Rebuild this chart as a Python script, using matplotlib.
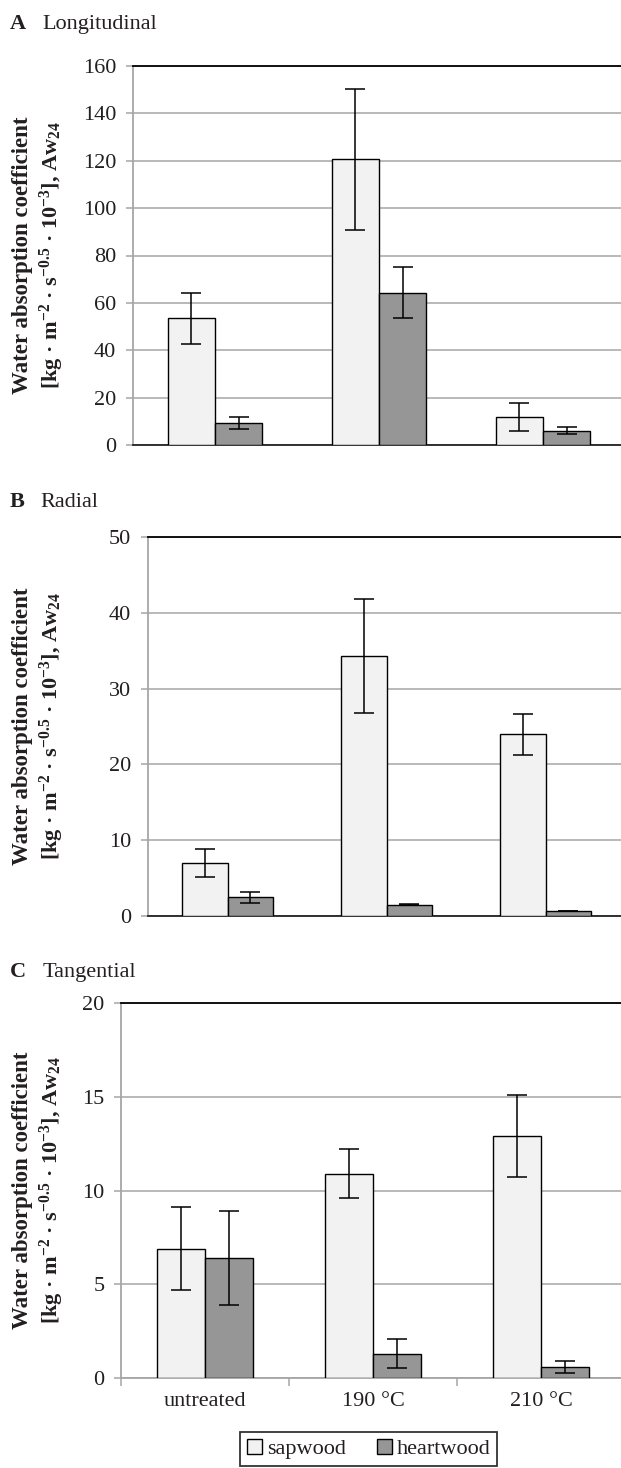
import matplotlib
matplotlib.use("Agg")
import matplotlib.pyplot as plt
from matplotlib.patches import Patch
import numpy as np

plt.rcParams['font.family'] = ['Liberation Serif', 'DejaVu Serif']
plt.rcParams['mathtext.fontset'] = 'custom'
plt.rcParams['mathtext.rm'] = 'Liberation Serif:bold'
plt.rcParams['mathtext.it'] = 'Liberation Serif:bold'
plt.rcParams['mathtext.bf'] = 'Liberation Serif:bold'

categories = ["untreated", "190 °C", "210 °C"]
series_names = ["sapwood", "heartwood"]

long_sap = [53.5, 120.6, 11.8]
long_sap_err = [10.8, 29.8, 6.0]
long_heart = [9.2, 64.3, 6.0]
long_heart_err = [2.5, 10.7, 1.5]

rad_sap = [7.0, 34.3, 24.0]
rad_sap_err = [1.85, 7.5, 2.7]
rad_heart = [2.45, 1.5, 0.65]
rad_heart_err = [0.75, 0.1, 0.05]

tan_sap = [6.9, 10.9, 12.9]
tan_sap_err = [2.2, 1.3, 2.2]
tan_heart = [6.4, 1.3, 0.6]
tan_heart_err = [2.5, 0.78, 0.31]

panel_letters = ["A", "B", "C"]
panel_names = ["Longitudinal", "Radial", "Tangential"]
y_max = [160, 50, 20]
y_step = [20, 10, 5]

W, H = 621, 1468
fig = plt.figure(figsize=(W / 100, H / 100), dpi=100)

# pixel boxes: left, right, top, bottom
boxes = [(133, 625, 66, 445), (148, 625, 537, 916), (121, 625, 1003, 1378)]
title_base = [29, 507, 977]
title_x2 = [42, 40, 43]

sap_color = "#f2f2f2"
heart_color = "#969696"
grid_color = "#a6a6a6"
text_color = "#231f20"
bw = 0.287

data = [
    (long_sap, long_sap_err, long_heart, long_heart_err),
    (rad_sap, rad_sap_err, rad_heart, rad_heart_err),
    (tan_sap, tan_sap_err, tan_heart, tan_heart_err),
]

x = np.arange(len(categories))
for i, (l, r, t, b) in enumerate(boxes):
    ax = fig.add_axes([l / W, 1 - b / H, (r - l) / W, (b - t) / H])
    sap, sap_e, heart, heart_e = data[i]
    ax.bar(x - bw / 2, sap, bw, color=sap_color, edgecolor="black", linewidth=1.0, zorder=3)
    ax.bar(x + bw / 2, heart, bw, color=heart_color, edgecolor="black", linewidth=1.0, zorder=3)
    ax.errorbar(x - bw / 2, sap, yerr=sap_e, fmt="none", ecolor="black", elinewidth=1.1,
                capsize=7.5, capthick=1.1, zorder=4)
    ax.errorbar(x + bw / 2, heart, yerr=heart_e, fmt="none", ecolor="black", elinewidth=1.1,
                capsize=7.5, capthick=1.1, zorder=4)
    ax.set_xlim(-0.5, 2.5)
    ax.set_ylim(0, y_max[i])
    ax.set_yticks(np.arange(0, y_max[i] + 0.1, y_step[i]))
    ax.yaxis.grid(True, color=grid_color, linewidth=1.1, zorder=0)
    ax.set_axisbelow(True)
    ax.tick_params(axis="y", direction="out", length=5, width=1.1, color=grid_color,
                   labelsize=16, labelcolor=text_color, pad=7)
    ax.spines["right"].set_visible(False)
    ax.spines["top"].set_color("black")
    ax.spines["top"].set_linewidth(1.3)
    ax.spines["left"].set_color(grid_color)
    ax.spines["left"].set_linewidth(1.3)
    if i < 2:
        ax.spines["bottom"].set_color("#222222")
        ax.spines["bottom"].set_linewidth(1.3)
        ax.set_xticks([])
    else:
        ax.spines["bottom"].set_color(grid_color)
        ax.spines["bottom"].set_linewidth(1.3)
        ax.set_xticks(x)
        ax.set_xticklabels(categories)
        ax.set_xticks([-0.5, 0.5, 1.5, 2.5], minor=True)
        ax.tick_params(axis="x", which="major", length=0, labelsize=16,
                       labelcolor=text_color, pad=10)
        ax.tick_params(axis="x", which="minor", length=6, width=1.1, color=grid_color)

    # panel titles
    fig.text(10 / W, 1 - title_base[i] / H, panel_letters[i], fontsize=16,
             fontweight="bold", color=text_color, va="baseline", ha="left")
    fig.text(title_x2[i] / W, 1 - title_base[i] / H, panel_names[i], fontsize=16,
             color=text_color, va="baseline", ha="left")

    # y labels (two lines)
    yc = 1 - ((t + b) / 2) / H
    fig.text(23 / W, yc, "Water absorption coefficient", rotation=90, fontsize=16.5,
             fontweight="bold", color=text_color, ha="center", va="center")
    fig.text(52 / W, yc,
             r"[kg · m$^{-2}$ · s$^{-0.5}$ · 10$^{-3}$], Aw$_{24}$",
             rotation=90, fontsize=16, fontweight="bold", color=text_color,
             ha="center", va="center")

handles = [Patch(facecolor=sap_color, edgecolor="black", linewidth=1.0),
           Patch(facecolor=heart_color, edgecolor="black", linewidth=1.0)]
leg = fig.legend(handles, series_names, loc="upper left",
                 bbox_to_anchor=(240 / W, 1 - 1432 / H), ncol=2, frameon=True,
                 fancybox=False, edgecolor="black", fontsize=16,
                 handlelength=0.7, handleheight=0.7, handletextpad=0.2,
                 columnspacing=1.4, borderpad=0.3, borderaxespad=0,
                 labelcolor=text_color)
leg.get_frame().set_linewidth(1.3)

fig.savefig("out.png", dpi=100)
